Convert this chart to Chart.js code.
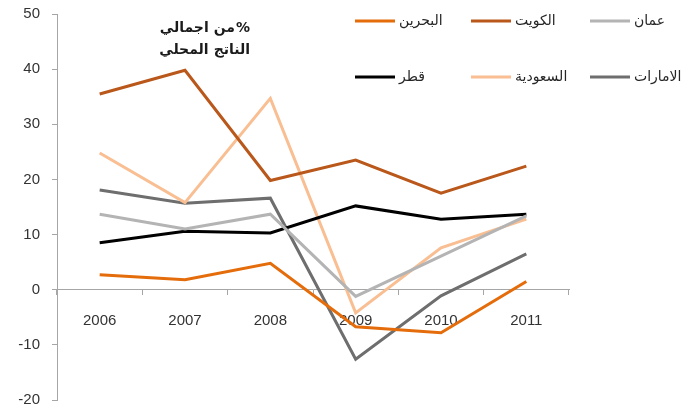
<!DOCTYPE html>
<html>
<head>
<meta charset="utf-8">
<script src="https://cdn.jsdelivr.net/npm/chart.js@4/dist/chart.umd.min.js"></script>
<style>
  html, body { margin: 0; padding: 0; background: #fff; }
  #wrap { width: 694px; height: 412px; position: relative; }
</style>
</head>
<body>
<div id="wrap"><canvas id="gdpChart"></canvas></div>
<script>
document.addEventListener('DOMContentLoaded', function () {
    "use strict";

    var years = ['2006', '2007', '2008', '2009', '2010', '2011'];

    var bahrain = [2.7, 1.8, 4.8, -6.7, -7.8, 1.5];
    var kuwait  = [35.5, 39.8, 19.8, 23.5, 17.5, 22.4];
    var oman    = [13.7, 11.0, 13.7, -1.2, 6.1, 13.4];
    var qatar   = [8.5, 10.6, 10.3, 15.2, 12.8, 13.7];
    var saudi   = [24.8, 15.8, 34.7, -4.2, 7.6, 12.8];
    var uae     = [18.1, 15.7, 16.6, -12.6, -1.1, 6.5];

    var yTicks = [-20, -10, 0, 10, 20, 30, 40, 50];

    // caption words in reading order (right to left)
    var captionLine1 = ['%', 'من', 'اجمالي'];
    var captionLine2 = ['الناتج', 'المحلي'];
    var captionGaps1 = [1, 5];
    var captionGaps2 = [5];

    function series(label, data, color) {
        return {
            label: label,
            data: data,
            borderColor: color,
            backgroundColor: color,
            borderWidth: 3,
            pointRadius: 0,
            tension: 0,
            fill: false
        };
    }

    // place words one by one from the right edge leftwards
    function drawWordsRtl(c, words, gaps, right, y) {
        var x = right;
        c.textAlign = 'right';
        words.forEach(function (w, i) {
            c.fillText(w, x, y);
            x -= c.measureText(w).width + (gaps[i] || 0);
        });
    }

    // two rows of three entries, drawn to the right of the caption
    var legendPlugin = {
        id: 'gridLegend',
        afterDraw: function (chart) {
            var c = chart.ctx;
            var cols = [355, 471, 590];
            var rows = [21, 77];
            c.save();
            c.font = '14px "DejaVu Sans", sans-serif';
            c.textBaseline = 'middle';
            c.textAlign = 'left';
            chart.data.datasets.forEach(function (ds, i) {
                var x = cols[i % 3];
                var y = rows[Math.floor(i / 3)];
                c.strokeStyle = ds.borderColor;
                c.lineWidth = 3;
                c.beginPath();
                c.moveTo(x, y);
                c.lineTo(x + 40, y);
                c.stroke();
                c.fillStyle = '#262626';
                c.fillText(ds.label, x + 44, y);
            });

            // axis caption
            c.font = 'bold 14px "DejaVu Sans", sans-serif';
            c.fillStyle = '#1a1a1a';
            drawWordsRtl(c, captionLine1, captionGaps1, 250, 28);
            drawWordsRtl(c, captionLine2, captionGaps2, 250, 50);
            c.restore();
        }
    };

    var ctx = document.getElementById('gdpChart');

    new Chart(ctx, {
        type: 'line',
        data: {
            labels: years,
            datasets: [
                series('البحرين', bahrain, '#E46C0A'),
                series('الكويت', kuwait, '#B9581A'),
                series('عمان', oman, '#B4B4B4'),
                series('قطر', qatar, '#000000'),
                series('السعودية', saudi, '#F9BE92'),
                series('الامارات', uae, '#6E6E6E')
            ]
        },
        options: {
            responsive: true,
            maintainAspectRatio: false,
            animation: false,
            layout: {
                padding: { left: 0, top: 14, right: 125, bottom: 12 }
            },
            plugins: {
                legend: { display: false },
                tooltip: { enabled: false }
            },
            scales: {
                x: {
                    position: { y: 0 },
                    offset: true,
                    grid: {
                        offset: true,
                        drawOnChartArea: false,
                        drawTicks: true,
                        tickLength: 5,
                        tickColor: '#A6A6A6'
                    },
                    border: { color: '#A6A6A6', width: 1 },
                    ticks: {
                        padding: 17,
                        color: '#333333',
                        font: { family: '"Liberation Sans", Arial, sans-serif', size: 15 }
                    }
                },
                y: {
                    min: -20,
                    max: 50,
                    afterFit: function (scale) {
                        scale.width = 57;
                        scale.paddingTop = 0;
                        scale.paddingBottom = 0;
                    },
                    afterBuildTicks: function (scale) {
                        scale.ticks = yTicks.map(function (v) { return { value: v }; });
                    },
                    grid: {
                        drawOnChartArea: false,
                        drawTicks: true,
                        tickLength: 5,
                        tickColor: '#A6A6A6'
                    },
                    border: { color: '#A6A6A6', width: 1 },
                    ticks: {
                        padding: 12,
                        color: '#333333',
                        font: { family: '"Liberation Sans", Arial, sans-serif', size: 15 }
                    }
                }
            }
        },
        plugins: [legendPlugin]
    });
});
</script>
</body>
</html>
